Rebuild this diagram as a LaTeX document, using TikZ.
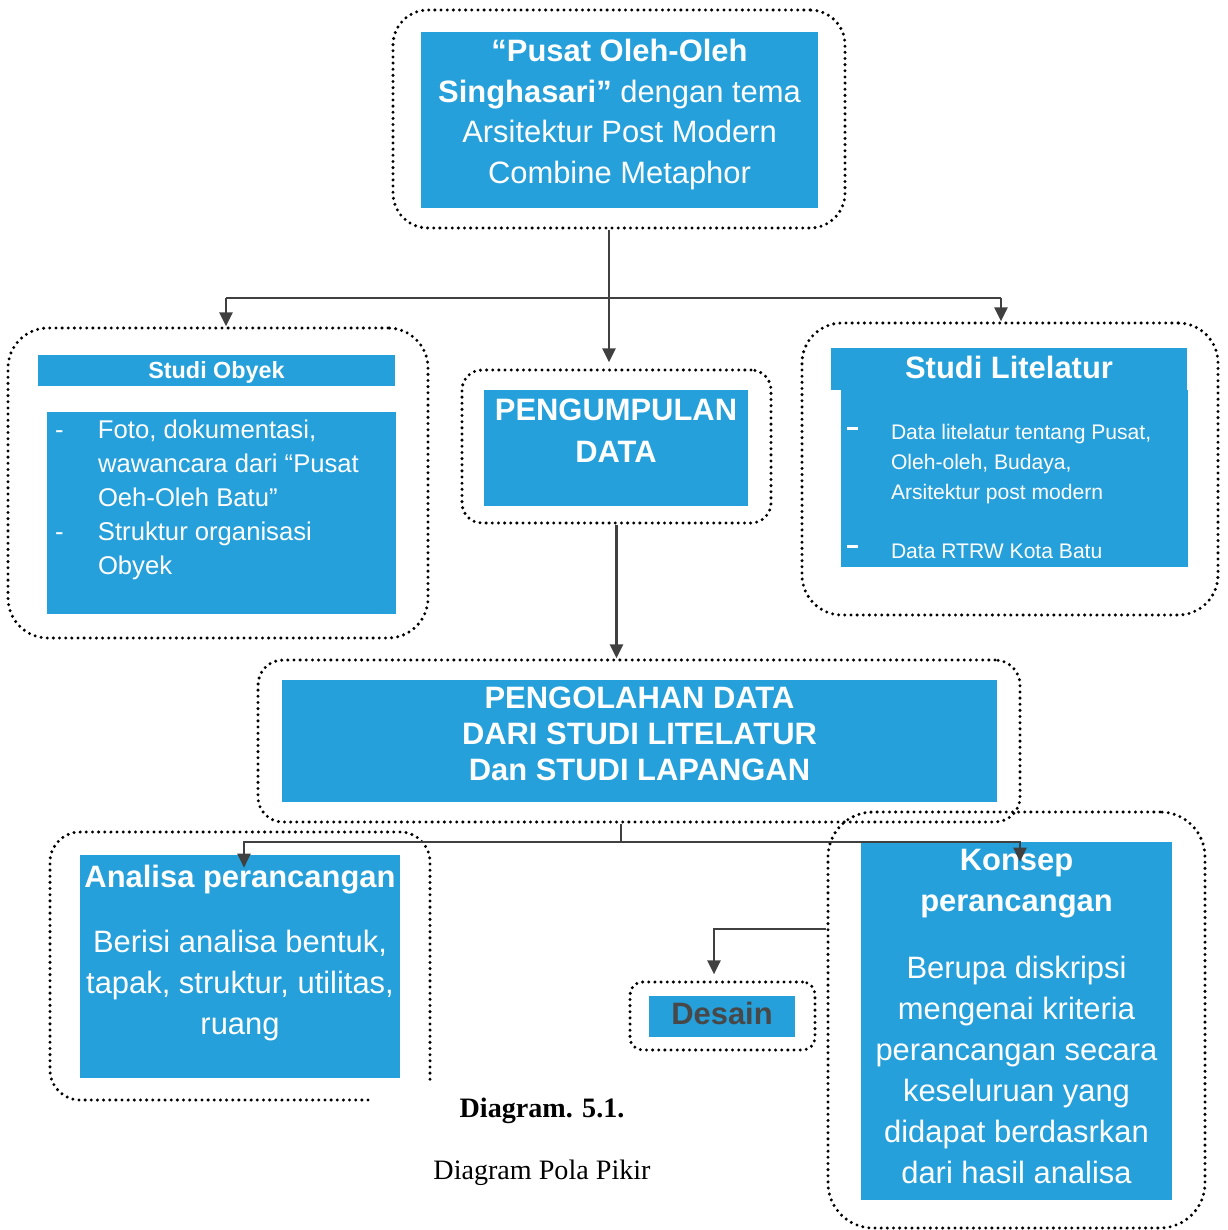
\documentclass[tikz,border=0pt]{standalone}
\usepackage{fontspec}
\setmainfont{Liberation Sans}
\newfontfamily\captionfont{Liberation Serif}
\usetikzlibrary{arrows.meta, positioning}
\definecolor{boxblue}{RGB}{38,160,218}
\definecolor{arrowgray}{RGB}{64,64,64}
\definecolor{desaingray}{RGB}{72,72,72}
\newlength{\pxu}\setlength{\pxu}{0.02cm}
\newcommand{\litdash}{\makebox[44\pxu][l]{\rule[5.8pt]{11\pxu}{3\pxu}}}
\tikzset{
  dotbox/.style={draw=black, rounded corners=0.7cm, line width=1.9pt,
    dash pattern=on 0pt off 3.5pt, line cap=round},
  bluebox/.style={fill=boxblue, inner sep=0pt},
  boxtext/.style={text=white, align=center, inner sep=0pt,
    font=\fontsize{17.6}{23.3}\selectfont},
  headtext/.style={boxtext, font=\bfseries\fontsize{17.6}{23.3}\selectfont},
  listtext/.style={text=white, align=left, inner sep=0pt},
  arrow/.style={-{Triangle[length=8pt, width=7.5pt]}, line width=1.2pt, color=arrowgray},
  link/.style={line width=1.2pt, color=arrowgray},
}
\begin{document}
\begin{tikzpicture}[x=0.02cm, y=-0.02cm]
  \useasboundingbox (0,0) rectangle (1227,1230);
  % dotted frames
  \node[dotbox, minimum width=452\pxu, minimum height=218\pxu] (topout) at (619,119) {};
  \node[dotbox, minimum width=420\pxu, minimum height=310\pxu, rounded corners=0.8cm] (obyekout) at (218,483) {};
  \node[dotbox, minimum width=309\pxu, minimum height=153\pxu, rounded corners=0.4cm] (pgmout) at (616.5,446.5) {};
  \node[dotbox, minimum width=416\pxu, minimum height=292\pxu, rounded corners=0.8cm] (litout) at (1010,469) {};
  \node[dotbox, minimum width=762\pxu, minimum height=162\pxu, rounded corners=0.5cm] (olahout) at (639,741) {};
  \node[dotbox, minimum width=377\pxu, minimum height=416\pxu, rounded corners=0.9cm] (konsepout) at (1016.5,1020) {};
  \node[dotbox, minimum width=185\pxu, minimum height=68\pxu, rounded corners=0.25cm] (desainout) at (722.5,1016) {};
  \draw[dotbox, rounded corners=0.6cm] (368,1100) -| (50,832) -| (430,1082);

  % blue boxes
  \node[bluebox, minimum width=397\pxu, minimum height=176\pxu] (top) at (619.5,120) {};
  \node[bluebox, minimum width=357\pxu, minimum height=31\pxu] (obyekhead) at (216.5,370.5) {};
  \node[bluebox, minimum width=349\pxu, minimum height=202\pxu] (obyek) at (221.5,513) {};
  \node[bluebox, minimum width=264\pxu, minimum height=116\pxu] (pgm) at (616,448) {};
  \node[bluebox, minimum width=356\pxu, minimum height=42\pxu] (lithead) at (1009,369) {};
  \node[bluebox, minimum width=347\pxu, minimum height=177\pxu] (lit) at (1014.5,478.5) {};
  \node[bluebox, minimum width=715\pxu, minimum height=122\pxu] (olah) at (639.5,741) {};
  \node[bluebox, minimum width=320\pxu, minimum height=223\pxu] (ana) at (240,966.5) {};
  \node[bluebox, minimum width=311\pxu, minimum height=358\pxu] (konsep) at (1016.5,1021) {};
  \node[bluebox, minimum width=146\pxu, minimum height=41\pxu] (desain) at (722,1016.5) {};

  % texts
  \node[boxtext] (toptxt) at ([yshift=5.5\pxu]top.center)
    {\textbf{“Pusat Oleh-Oleh}\\\textbf{Singhasari”} dengan tema\\Arsitektur Post Modern\\Combine Metaphor};
  \node[boxtext, font=\bfseries\fontsize{13.3}{16}\selectfont] (obyekheadtxt) at ([yshift=-1.5\pxu]obyekhead.center) {Studi Obyek};
  \node[listtext, anchor=north west, font=\fontsize{14.6}{19.4}\selectfont] (obyektxt)
    at ([xshift=8\pxu, yshift=-7.5\pxu]obyek.north west)
    {\makebox[43\pxu][l]{-}Foto, dokumentasi,\\
     \hspace*{43\pxu}wawancara dari “Pusat\\
     \hspace*{43\pxu}Oeh-Oleh Batu”\\
     \makebox[43\pxu][l]{-}Struktur organisasi\\
     \hspace*{43\pxu}Obyek};
  \node[headtext, font=\bfseries\fontsize{17.6}{23.9}\selectfont] (pgmtxt) at ([yshift=17\pxu]pgm.center) {PENGUMPULAN\\DATA};
  \node[headtext] (lithtxt) at ([yshift=2\pxu]lithead.center) {Studi Litelatur};
  \node[listtext, anchor=north west, font=\fontsize{12}{17.1}\selectfont] (littxt)
    at ([xshift=6\pxu, yshift=-34.5\pxu]lit.north west)
    {\litdash Data litelatur tentang Pusat,\\
     \hspace*{44\pxu}Oleh-oleh, Budaya,\\
     \hspace*{44\pxu}Arsitektur post modern\\[16pt]
     \litdash Data RTRW Kota Batu};
  \node[headtext, font=\bfseries\fontsize{17.6}{20.5}\selectfont] (olahtxt) at ([yshift=7\pxu]olah.center)
    {PENGOLAHAN DATA\\DARI STUDI LITELATUR\\Dan STUDI LAPANGAN};
  \node[headtext] (anahead) at ([yshift=-24.5\pxu]ana.north) {Analisa perancangan};
  \node[boxtext, font=\fontsize{17.6}{23.6}\selectfont] (anabody) at ([yshift=-19\pxu]ana.center)
    {Berisi analisa bentuk,\\tapak, struktur, utilitas,\\ruang};
  \node[headtext] (konsephead) at ([yshift=-42\pxu]konsep.north) {Konsep\\perancangan};
  \node[boxtext] (konsepbody) at ([yshift=-49\pxu]konsep.center)
    {Berupa diskripsi\\mengenai kriteria\\perancangan secara\\keseluruan yang\\didapat berdasrkan\\dari hasil analisa};
  \node[headtext, text=desaingray] (desaintxt) at ([yshift=3\pxu]desain.center) {Desain};

  % caption
  \node[font=\captionfont\bfseries\fontsize{16}{19}\selectfont] (capnum) at (542,1111) {Diagram. 5.1.};
  \node[font=\captionfont\fontsize{16}{19}\selectfont] (captitle) at (542,1173) {Diagram Pola Pikir};

  % connectors
  \coordinate (trunk) at (609,298);
  \coordinate (splitL) at (226,298);
  \coordinate (splitR) at (1001,298);
  \coordinate (hub) at (621,842);
  \draw[link] (trunk |- topout.south) -- (trunk);
  \draw[arrow, shorten >=6\pxu] (trunk) -- (trunk |- pgmout.north);
  \draw[link] (splitL) -- (splitR);
  \draw[arrow] (splitL) -- (splitL |- obyekout.north);
  \draw[arrow] (splitR) -- (splitR |- litout.north);
  \draw[arrow] (pgmout.south) -- (pgmout.south |- olahout.north);
  \draw[link] (olahout.south -| hub) -- (hub);
  \draw[arrow] (hub) -| ([xshift=4\pxu, yshift=-13\pxu]ana.north);
  \draw[arrow] (hub) -| ([xshift=3.5\pxu, yshift=-20\pxu]konsep.north);
  \draw[arrow, shorten >=6\pxu] ([yshift=91\pxu]konsepout.west) -| ([xshift=-8.5\pxu]desainout.north);
\end{tikzpicture}
\end{document}
